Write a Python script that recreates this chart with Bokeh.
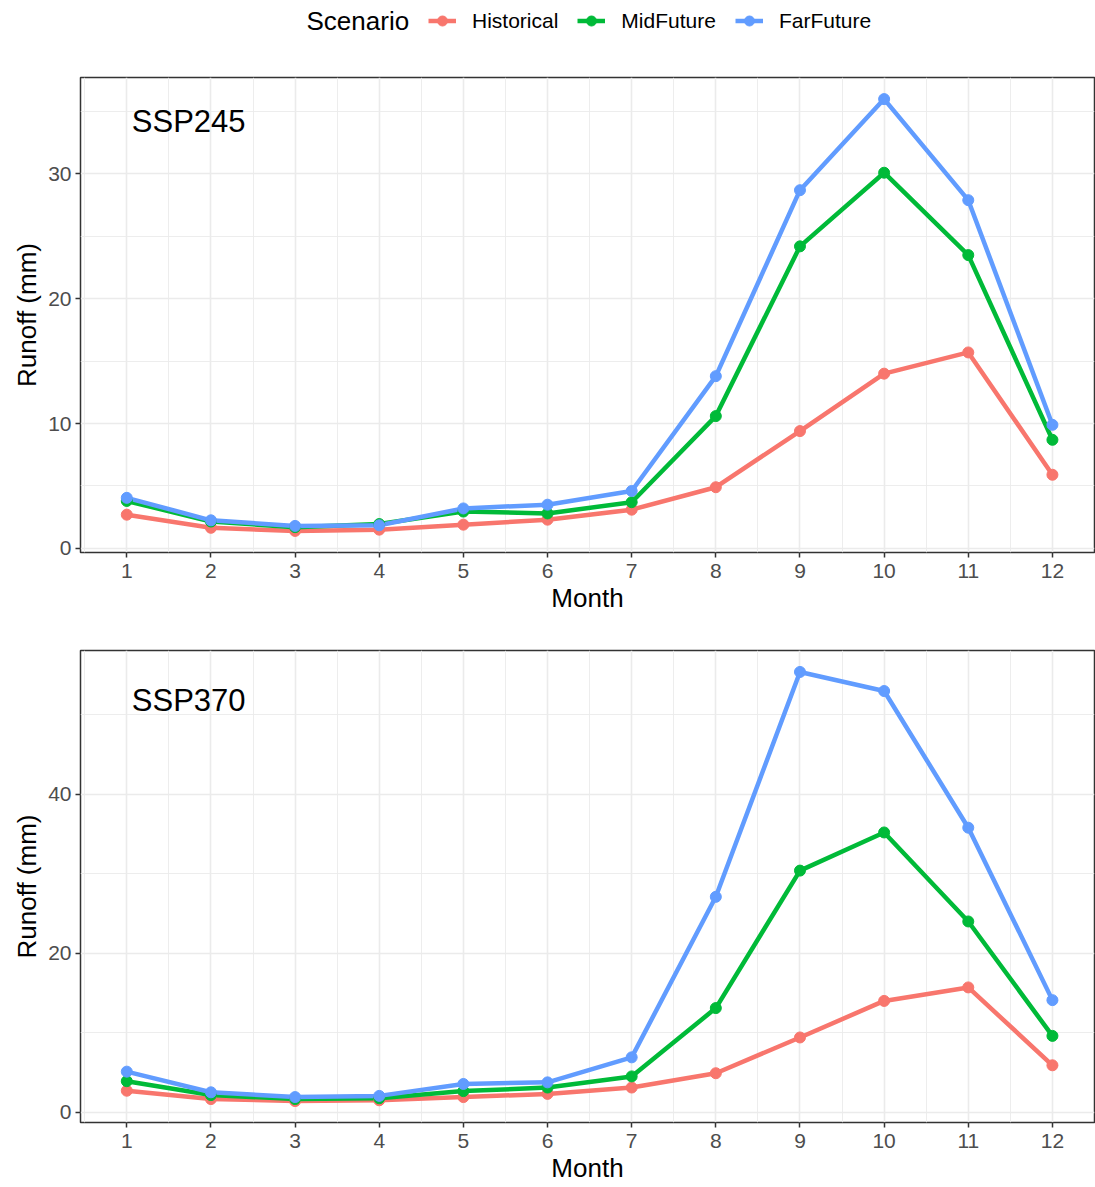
from bokeh.plotting import figure
from bokeh.models import Range1d, FixedTicker, Legend, LegendItem, Label
from bokeh.layouts import column
from bokeh.embed import file_html
from bokeh.resources import INLINE

# ---------------- data ----------------
months = [1, 2, 3, 4, 5, 6, 7, 8, 9, 10, 11, 12]
scenarios = ["Historical", "MidFuture", "FarFuture"]
colors = ["#F8766D", "#00BA38", "#619CFF"]

historical = [2.7, 1.65, 1.4, 1.5, 1.9, 2.3, 3.1, 4.9, 9.4, 14.0, 15.7, 5.9]

ssp245_mid = [3.8, 2.15, 1.7, 1.95, 2.95, 2.8, 3.7, 10.6, 24.2, 30.1, 23.5, 8.7]
ssp245_far = [4.05, 2.25, 1.8, 1.85, 3.2, 3.5, 4.6, 13.8, 28.7, 36.0, 27.9, 9.9]

ssp370_mid = [3.9, 2.15, 1.65, 1.75, 2.65, 3.1, 4.5, 13.1, 30.4, 35.2, 24.0, 9.6]
ssp370_far = [5.1, 2.5, 1.9, 2.05, 3.55, 3.75, 6.9, 27.1, 55.4, 53.0, 35.8, 14.1]

panel_names = ["SSP245", "SSP370"]
y_ticks_245 = [0, 10, 20, 30]
y_minor_245 = [5, 15, 25, 35]
y_ticks_370 = [0, 20, 40]
y_minor_370 = [10, 30, 50]
x_minor = [0.5, 1.5, 2.5, 3.5, 4.5, 5.5, 6.5, 7.5, 8.5, 9.5, 10.5, 11.5, 12.5]

FONT = "Liberation Sans"
W = 1095
LEFT = 80
RIGHT = 1
LINE_W = 4.5
PT_SIZE = 11


def make_panel(name, series, yticks, yminor, height, b_top, b_bottom, label_y):
    allv = [v for s in series for v in s]
    lo, hi = min(allv), max(allv)
    pad = 0.05 * (hi - lo)
    p = figure(width=W, height=height,
               x_range=Range1d(0.45, 12.5), y_range=Range1d(lo - pad, hi + pad),
               output_backend="svg", toolbar_location=None,
               min_border_left=LEFT, min_border_right=RIGHT,
               min_border_top=b_top, min_border_bottom=b_bottom)
    p.background_fill_color = "white"
    p.border_fill_color = "white"
    p.outline_line_color = "#333333"
    p.outline_line_width = 1.5
    p.outline_line_alpha = 1.0

    xt = FixedTicker(ticks=months, minor_ticks=x_minor)
    yt = FixedTicker(ticks=yticks, minor_ticks=yminor)
    p.xaxis.ticker = xt
    p.yaxis.ticker = yt
    p.xgrid.ticker = xt
    p.ygrid.ticker = yt
    p.xaxis.axis_label = "Month"
    p.yaxis.axis_label = "Runoff (mm)"
    for ax in (p.xaxis[0], p.yaxis[0]):
        ax.axis_line_color = None
        ax.major_tick_line_color = "#333333"
        ax.major_tick_line_width = 1.5
        ax.major_tick_out = 5
        ax.major_tick_in = 0
        ax.minor_tick_out = 0
        ax.minor_tick_in = 0
        ax.major_label_text_font = FONT
        ax.major_label_text_font_size = "21px"
        ax.major_label_text_color = "#4D4D4D"
        ax.axis_label_text_font = FONT
        ax.axis_label_text_font_size = "26px"
        ax.axis_label_text_color = "black"
        ax.axis_label_text_font_style = "normal"
    p.xaxis.major_label_standoff = 6
    p.xaxis.axis_label_standoff = 2
    p.yaxis.major_label_standoff = 4
    p.yaxis.axis_label_standoff = 3

    for g in (p.xgrid, p.ygrid):
        g.grid_line_color = "#EBEBEB"
        g.grid_line_width = 1.6
        g.minor_grid_line_color = "#EBEBEB"
        g.minor_grid_line_width = 0.9

    for vals, c in zip(series, colors):
        p.line(months, vals, line_color=c, line_width=LINE_W)
    for vals, c in zip(series, colors):
        p.scatter(months, vals, size=PT_SIZE, fill_color=c, line_color=c)

    p.add_layout(Label(x=1.06, y=label_y, text=name, text_font=FONT,
                       text_font_size="31px", text_color="black",
                       text_align="left", text_baseline="middle"))
    return p


top = make_panel(panel_names[0], [historical, ssp245_mid, ssp245_far],
                 y_ticks_245, y_minor_245, 577, 29, 73, 34.2)
bottom = make_panel(panel_names[1], [historical, ssp370_mid, ssp370_far],
                    y_ticks_370, y_minor_370, 562, 25, 65, 51.8)

# ---------------- legend strip ----------------
LG_H = 48
FRAME_W = W - LEFT - RIGHT
lg = figure(width=W, height=LG_H, x_range=Range1d(0, FRAME_W), y_range=Range1d(0, LG_H),
            output_backend="svg", toolbar_location=None,
            min_border_left=LEFT, min_border_right=RIGHT,
            min_border_top=0, min_border_bottom=0,
            x_axis_location=None, y_axis_location=None)
lg.outline_line_color = None
lg.xgrid.visible = False
lg.ygrid.visible = False
lg.extra_x_ranges = {"off": Range1d(start=1000, end=2000)}
items = []
for name, vals, c in zip(scenarios, [historical, ssp245_mid, ssp245_far], colors):
    r1 = lg.line(months, vals, line_color=c, line_width=LINE_W, x_range_name="off")
    r2 = lg.scatter(months, vals, size=PT_SIZE, fill_color=c, line_color=c, x_range_name="off")
    items.append(LegendItem(label=name, renderers=[r1, r2]))
leg = Legend(items=items, orientation="horizontal", location=(348, 15),
             glyph_width=28, glyph_height=25, label_standoff=16, spacing=19,
             padding=0, margin=0, border_line_color=None, background_fill_alpha=0,
             label_text_font=FONT, label_text_font_size="21px",
             label_text_color="black")
lg.add_layout(leg)
lg.add_layout(Label(x=226, y=28, text="Scenario", text_font=FONT,
                    text_font_size="26px", text_color="black",
                    text_align="left", text_baseline="middle"))

layout = column(lg, top, bottom)
open("out.html", "w").write(file_html(layout, INLINE))
